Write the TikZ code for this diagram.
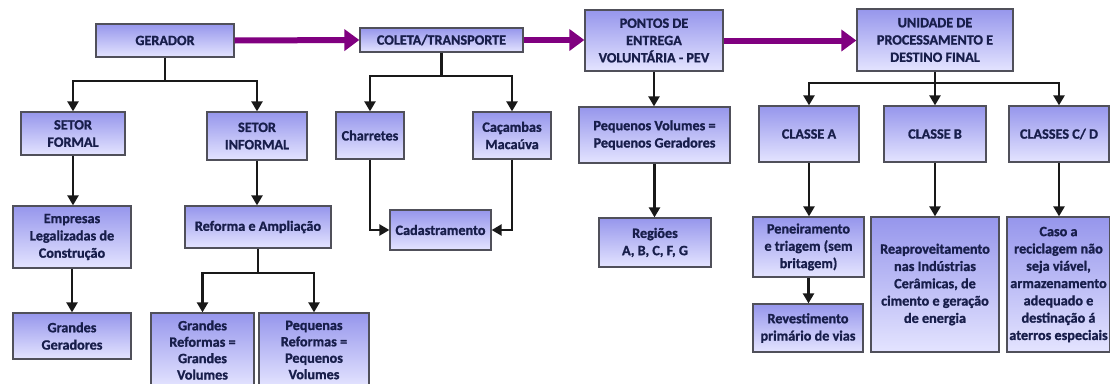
\documentclass[tikz,border=0pt]{standalone}
\usepackage{fontspec}
\setmainfont{Carlito}[BoldFeatures={FakeBold=1.2}]
\usetikzlibrary{arrows.meta,shadings}
\definecolor{boxtop}{RGB}{150,150,236}
\definecolor{boxbot}{RGB}{228,228,255}
\definecolor{boxline}{RGB}{80,80,90}
\definecolor{boxtext}{RGB}{24,30,75}
\definecolor{flowpurple}{RGB}{128,0,128}
\tikzset{
  box/.style={draw=boxline, line width=1.3pt, top color=boxtop, bottom color=boxbot,
    text=boxtext, font=\fontsize{14.2}{17.3}\selectfont\bfseries, align=center,
    inner sep=1pt},
  tightbox/.style={box, font=\fontsize{14.2}{16.4}\selectfont\bfseries},
  flow/.style={draw=flowpurple, line width=6pt, -{Triangle[length=15pt,width=21pt]}},
  conn/.style={draw=black!90, line width=2.4pt, -{Triangle[length=10pt,width=11pt]}},
  plain/.style={draw=black!90, line width=2.4pt},
}
\begin{document}
\begin{tikzpicture}[x=1pt,y=-1pt]
\useasboundingbox (0,0) rectangle (1110,383);
\fill[white] (0,0) rectangle (1110,383);
% top row
\node[box, minimum width=138pt, minimum height=33pt] (ger) at (165,40.5) {GERADOR};
\node[box, minimum width=163pt, minimum height=24pt] (col) at (441.5,40) {COLETA/TRANSPORTE};
\node[box, minimum width=138pt, minimum height=61pt] (pev) at (654,40.5) {PONTOS DE\\ENTREGA\\VOLUNTÁRIA - PEV};
\node[box, minimum width=156pt, minimum height=62pt] (uni) at (935,40) {UNIDADE DE\\PROCESSAMENTO E\\DESTINO FINAL};
% gerador branch
\node[box, minimum width=104pt, minimum height=43pt] (sf) at (73,133.5) {SETOR\\FORMAL};
\node[box, minimum width=100pt, minimum height=48pt] (si) at (257,136) {SETOR\\INFORMAL};
\node[box, minimum width=118pt, minimum height=62pt] (emp) at (72,237) {Empresas\\Legalizadas de\\Construção};
\node[box, minimum width=118pt, minimum height=46pt] (gg) at (72,336) {Grandes\\Geradores};
\node[box, minimum width=146pt, minimum height=42pt] (ref) at (258,227) {Reforma e Ampliação};
\node[tightbox, minimum width=103pt, minimum height=74pt] (gr) at (202.5,350) {Grandes\\Reformas =\\Grandes\\Volumes};
\node[tightbox, minimum width=110pt, minimum height=74pt] (pr) at (314,350) {Pequenas\\Reformas =\\Pequenos\\Volumes};
% coleta branch
\node[box, minimum width=68pt, minimum height=47pt] (cha) at (370,135.5) {Charretes};
\node[box, minimum width=78pt, minimum height=47pt] (cac) at (512,135.5) {Caçambas\\Macaúva};
\node[box, minimum width=101pt, minimum height=40pt] (cad) at (440.5,230) {Cadastramento};
% pev branch
\node[box, minimum width=151pt, minimum height=56pt] (pv) at (654.5,135) {Pequenos Volumes =\\Pequenos Geradores};
\node[box, minimum width=112pt, minimum height=49pt] (reg) at (655,242.5) {Regiões\\A, B, C, F, G};
% unidade branch
\node[box, minimum width=100pt, minimum height=56pt] (ca) at (809,134) {CLASSE A};
\node[box, minimum width=102pt, minimum height=56pt] (cb) at (935,134) {CLASSE B};
\node[box, minimum width=100pt, minimum height=56pt] (cc) at (1059,134) {CLASSES C/ D};
\node[box, minimum width=111pt, minimum height=60pt] (pen) at (808.5,247) {Peneiramento\\e triagem (sem\\britagem)};
\node[box, minimum width=110pt, minimum height=48pt] (rev) at (808,328) {Revestimento\\primário de vias};
\node[box, minimum width=128pt, minimum height=135pt] (rea) at (935,284.5) {Reaproveitamento\\nas Indústrias\\Cerâmicas, de\\cimento e geração\\de energia};
\node[box, minimum width=103pt, minimum height=135pt] (cas) at (1058.5,284.5) {Caso a\\reciclagem não\\seja viável,\\armazenamento\\adequado e\\destinação á\\aterros especiais};
% main flow
\draw[flow] (ger.east) -- (col.west);
\draw[flow] (col.east) -- (col.east -| pev.west);
\draw[flow] (pev.east) -- (pev.east -| uni.west);
% gerador tree
\coordinate (j1) at (165,81);
\draw[plain] (ger.south) -- (j1);
\draw[conn] (j1) -| (sf.north);
\draw[conn] (j1) -| (si.north);
\draw[conn] (sf.south) -- (sf.south |- emp.north);
\draw[conn] (emp.south) -- (emp.south |- gg.north);
\draw[conn] (si.south) -- (si.south |- ref.north);
\coordinate (j2) at (258,273);
\draw[plain] (ref.south) -- (j2);
\draw[conn] (j2) -| (gr.north);
\draw[conn] (j2) -| (pr.north);
% coleta tree
\coordinate (j3) at (441.5,76);
\draw[plain] (col.south) -- (j3);
\draw[conn] (j3) -| (cha.north);
\draw[conn] (j3) -| (cac.north);
\draw[conn] (cha.south) |- (cad.west);
\draw[conn] (cac.south) |- (cad.east);
% pev tree
\draw[conn] (pev.south) -- (pev.south |- pv.north);
\draw[conn] (pv.south) -- (pv.south |- reg.north);
% unidade tree
\coordinate (j4) at (935,83);
\draw[plain] (uni.south) -- (j4);
\draw[conn] (j4) -| (ca.north);
\draw[conn] (j4) -- (cb.north);
\draw[conn] (j4) -| (cc.north);
\draw[conn] (ca.south) -- (ca.south |- pen.north);
\draw[conn] (pen.south) -- (pen.south |- rev.north);
\draw[conn] (cb.south) -- (cb.south |- rea.north);
\draw[conn] (cc.south) -- (cc.south |- cas.north);
\end{tikzpicture}
\end{document}
